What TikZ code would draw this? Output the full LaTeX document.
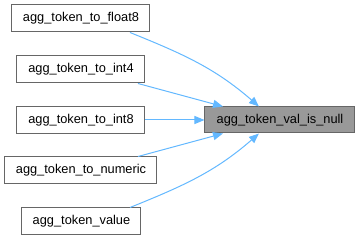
\documentclass[tikz,border=0pt]{standalone}
\usepackage{fontspec}
\setmainfont{Liberation Sans}
\usetikzlibrary{arrows.meta,calc}
\definecolor{edgec}{HTML}{63B8FF}
\definecolor{boxc}{HTML}{666666}
\definecolor{fillc}{HTML}{999999}
\begin{document}
\begin{tikzpicture}[x=1pt,y=1pt,
  box/.style={draw=boxc, line width=1pt, minimum height=27pt, inner sep=0pt, font=\fontsize{12.8}{14}\selectfont, text=black},
  edge/.style={draw=edgec, line width=1pt, -{Triangle[length=10pt,width=8pt]}}]
\useasboundingbox (0,0) rectangle (360,240);
\node[box, minimum width=138pt] (f8) at (81,221.5) {agg\_token\_to\_float8};
\node[box, minimum width=128pt] (i4) at (81,170.5) {agg\_token\_to\_int4};
\node[box, minimum width=128pt] (i8) at (81,120) {agg\_token\_to\_int8};
\node[box, minimum width=152pt] (nu) at (81,69.5) {agg\_token\_to\_numeric};
\node[box, minimum width=119pt] (va) at (81.5,18.5) {agg\_token\_value};
\node[box, minimum width=150pt, minimum height=26pt, fill=fillc] (t) at (280,120) {agg\_token\_val\_is\_null};
\draw[edge] ([xshift=49pt]f8.south) to[out=-22,in=139] ([xshift=-21pt]t.north);
\draw[edge] ([xshift=57pt]i4.south) -- ([xshift=-57pt]t.north);
\draw[edge] (i8.east) -- (t.west);
\draw[edge] ([xshift=57pt]nu.north) -- ([xshift=-57pt]t.south);
\draw[edge] ([xshift=48.5pt]va.north) to[out=22,in=-139] ([xshift=-21pt]t.south);
\end{tikzpicture}
\end{document}
